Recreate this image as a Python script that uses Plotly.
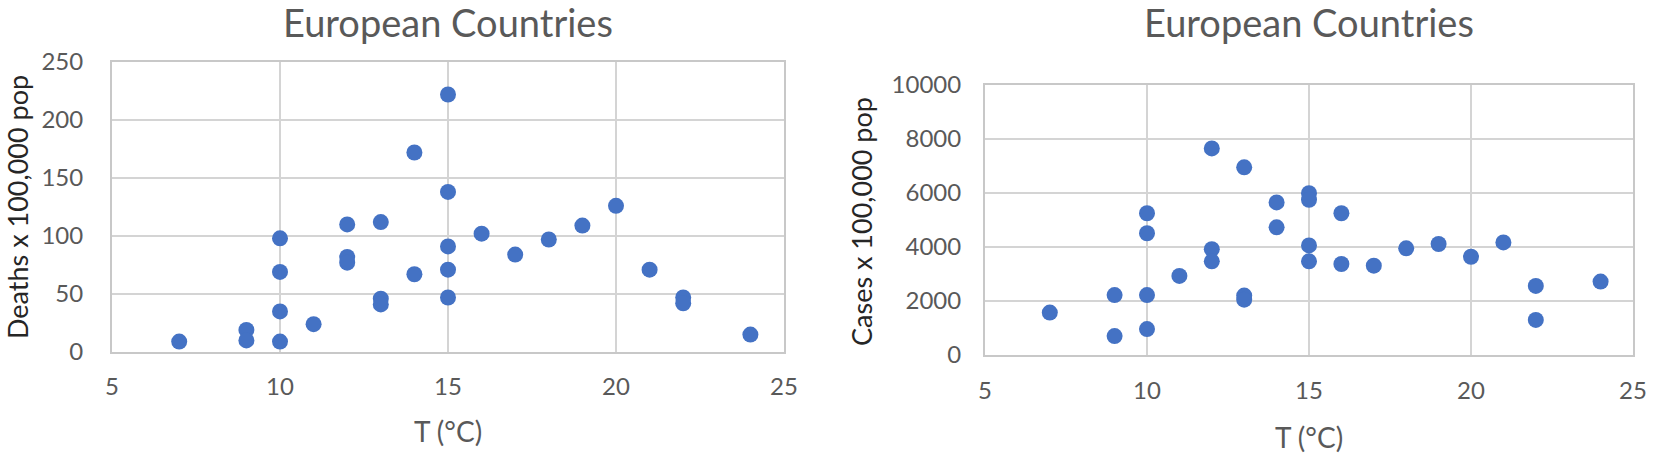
import plotly.graph_objects as go

# Left chart: deaths per 100,000 population vs temperature
deaths_T = [7, 9, 9, 10, 10, 10, 10, 11, 12, 12, 12, 13, 13, 13, 14, 14,
            15, 15, 15, 15, 15, 16, 17, 18, 19, 20, 21, 22, 22, 24]
deaths_val = [9, 19, 10, 98, 69, 35, 9, 24, 110, 82, 77, 112, 46, 41, 172, 67,
              222, 138, 91, 71, 47, 102, 84, 97, 109, 126, 71, 47, 42, 15]

# Right chart: cases per 100,000 population vs temperature
cases_T = [7, 9, 9, 10, 10, 10, 10, 11, 12, 12, 12, 13, 13, 13, 14, 14,
           15, 15, 15, 15, 16, 16, 17, 18, 19, 20, 21, 22, 22, 24]
cases_val = [1570, 2220, 700, 5250, 4510, 2220, 960, 2930, 7650, 3920, 3470, 6950, 2200, 2050,
             5650, 4730, 5990, 5750, 4060, 3470, 5250, 3370, 3310, 3950, 4110, 3640, 4170,
             2560, 1300, 2720]

title_text = "European Countries"
x_title = "T (°C)"
y_title_left = "Deaths x 100,000 pop"
y_title_right = "Cases x 100,000 pop"

W, H = 1653, 458
FONT = "Lato"
GRAY = "#595959"
GRID = "#d4d4d4"
MARK = "#4472C4"

fig = go.Figure()
fig.add_trace(go.Scatter(x=deaths_T, y=deaths_val, mode="markers",
                         marker=dict(size=16, color=MARK, line=dict(width=0)),
                         xaxis="x", yaxis="y", showlegend=False))
fig.add_trace(go.Scatter(x=cases_T, y=cases_val, mode="markers",
                         marker=dict(size=16, color=MARK, line=dict(width=0)),
                         xaxis="x2", yaxis="y2", showlegend=False))

def px_x(p):
    return p / W

def px_y(p):
    return 1 - p / H

common_axis = dict(showgrid=True, gridcolor=GRID, gridwidth=2,
                   showline=True, linecolor="#c8c8c8", linewidth=2, mirror=True,
                   zeroline=False, ticks="outside", tickcolor="rgba(0,0,0,0)",
                   automargin=False,
                   tickfont=dict(family=FONT, size=24, color=GRAY))

fig.update_layout(
    width=W, height=H,
    margin=dict(l=0, r=0, t=0, b=0, autoexpand=False),
    paper_bgcolor="white", plot_bgcolor="white",
    xaxis=dict(domain=[px_x(112), px_x(784)], range=[5, 25], dtick=5, tick0=5,
               ticklen=12, anchor="y", **common_axis),
    yaxis=dict(domain=[px_y(352), px_y(62)], range=[0, 250], dtick=50,
               ticklen=22, anchor="x", **common_axis),
    xaxis2=dict(domain=[px_x(985), px_x(1633)], range=[5, 25], dtick=5, tick0=5,
                ticklen=13, anchor="y2", **common_axis),
    yaxis2=dict(domain=[px_y(355), px_y(85)], range=[0, 10000], dtick=2000,
                tickformat="d", ticklen=17, anchor="x2", **common_axis),
)

ann = []
ann.append(dict(x=px_x(448), y=px_y(22), xref="paper", yref="paper", text=title_text,
                showarrow=False, xanchor="center", yanchor="middle",
                font=dict(family=FONT, size=38, color=GRAY)))
ann.append(dict(x=px_x(1309), y=px_y(22), xref="paper", yref="paper", text=title_text,
                showarrow=False, xanchor="center", yanchor="middle",
                font=dict(family=FONT, size=38, color=GRAY)))
ann.append(dict(x=px_x(448), y=px_y(431), xref="paper", yref="paper", text=x_title,
                showarrow=False, xanchor="center", yanchor="middle",
                font=dict(family=FONT, size=28, color=GRAY)))
ann.append(dict(x=px_x(1309), y=px_y(437), xref="paper", yref="paper", text=x_title,
                showarrow=False, xanchor="center", yanchor="middle",
                font=dict(family=FONT, size=28, color=GRAY)))
ann.append(dict(x=px_x(17), y=px_y(207), xref="paper", yref="paper", text=y_title_left,
                showarrow=False, xanchor="center", yanchor="middle", textangle=-90,
                font=dict(family=FONT, size=27, color="#262626")))
ann.append(dict(x=px_x(861), y=px_y(222), xref="paper", yref="paper", text=y_title_right,
                showarrow=False, xanchor="center", yanchor="middle", textangle=-90,
                font=dict(family=FONT, size=27, color="#262626")))
fig.update_layout(annotations=ann)

fig.write_html("out.html", config={"displayModeBar": False},
               post_script="document.body.style.margin='0';document.body.style.overflow='hidden';")
